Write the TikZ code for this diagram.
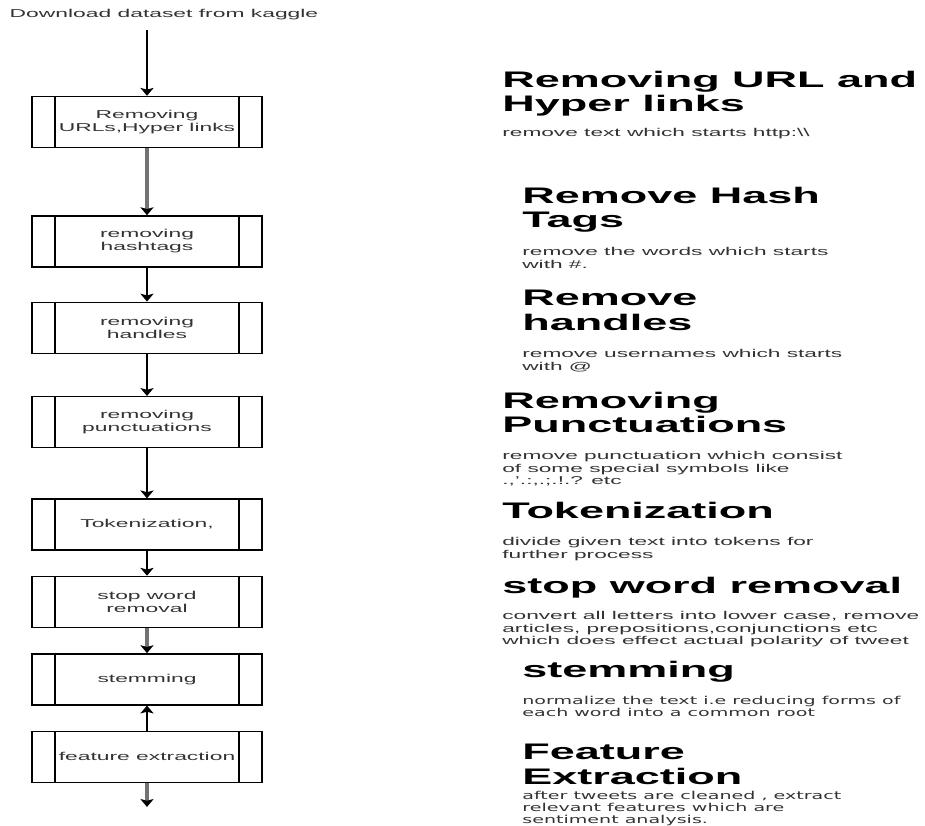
\documentclass[tikz,border=0pt]{standalone}
\usepackage{fontspec}
\setmainfont{Liberation Sans}[FakeStretch=2.0]
\newfontfamily\verdfont{DejaVu Sans}[FakeStretch=1.75]
\usepackage{tikz}
\usetikzlibrary{arrows.meta,positioning}
\definecolor{txtgray}{RGB}{51,51,51}
\definecolor{linegray}{RGB}{115,115,115}

\begin{document}
\begin{tikzpicture}[
        x=0.02cm, y=-0.02cm,
        stepbox/.style={draw=black, line width=0.8pt,
                    minimum width=4.6cm, minimum height=1.02cm,
                    inner sep=2pt, align=center, text=txtgray,
                    font=\fontsize{6.5}{7.3}\selectfont,
                    path picture={
                      \draw[line width=0.8pt]
                        ([xshift=0.46cm]path picture bounding box.north west) --
                        ([xshift=0.46cm]path picture bounding box.south west);
                      \draw[line width=0.8pt]
                        ([xshift=-0.46cm]path picture bounding box.north east) --
                        ([xshift=-0.46cm]path picture bounding box.south east);}},
        arr/.style={-{Stealth[length=4.5pt, width=7.5pt, inset=1pt, color=black]},
                    line width=0.8pt, black},
        grayarr/.style={arr, draw=linegray, line width=1.8pt},
        head/.style={anchor=north west, inner sep=0pt, align=left,
                    font=\bfseries\fontsize{12.8}{13.8}\selectfont},
        desc/.style={anchor=north west, inner sep=0pt, align=left,
                    text=txtgray, font=\fontsize{6.45}{7.1}\selectfont}
      ]
        \useasboundingbox (0,0) rectangle (925,825);

        % flow on the left
        \node[inner sep=0pt, font=\fontsize{6.5}{7.3}\selectfont, text=txtgray]
          (dl) at (164,15) {Download dataset from kaggle};
        \node[stepbox] (url) at (147,122) {Removing\\URLs,Hyper links};
        \node[stepbox, below=1.34cm of url] (hash) {removing\\hashtags};
        \node[stepbox, below=0.68cm of hash] (hand) {removing\\handles};
        \node[stepbox, below=0.84cm of hand] (punc) {removing\\punctuations};
        \node[stepbox, below=1.0cm of punc] (tok) {Tokenization,};
        \node[stepbox, below=0.5cm of tok] (stop) {stop word\\removal};
        \node[stepbox, below=0.5cm of stop] (stem) {stemming};
        \node[stepbox, below=0.5cm of stem] (feat) {feature extraction};
        \coordinate[below=0.48cm of feat] (out);

        \draw[arr] (url.north |- dl.south) ++(0,9) -- (url);
        \draw[grayarr] (url) -- (hash);
        \draw[arr] (hash) -- (hand);
        \draw[arr] (hand) -- (punc);
        \draw[arr] (punc) -- (tok);
        \draw[arr] (tok) -- (stop);
        \draw[grayarr] (stop) -- (stem);
        \draw[arr] (feat) -- (stem);
        \draw[grayarr] (feat) -- (out);

        % notes on the right
        \node[head] (h1) at (502,71) {Removing URL and\\Hyper links};
        \node[desc] (d1) at (502,128) {remove text which starts http:\textbackslash\textbackslash};
        \node[head] (h2) at (522,187) {Remove Hash\\Tags};
        \node[desc] (d2) at (522,247) {remove the words which starts\\with \#.};
        \node[head] (h3) at (522,290) {Remove\\handles};
        \node[desc] (d3) at (522,349) {remove usernames which starts\\with @};
        \node[head] (h4) at (502,392) {Removing\\Punctuations};
        \node[desc] (d4) at (502,451) {remove punctuation which consist\\of some special symbols like\\.,'.:,.;.!.? etc};
        \node[head] (h5) at (502,502) {Tokenization};
        \node[desc] (d5) at (502,537) {divide given text into tokens for\\further process};
        \node[head] (h6) at (502,577) {stop word removal};
        \node[desc] (d6) at (502,611) {convert all letters into lower case, remove\\articles, prepositions,conjunctions etc\\which does effect actual polarity of tweet};
        \node[head] (h7) at (522,661) {stemming};
        \node[desc, font=\verdfont\fontsize{6.2}{7.0}\selectfont] (d7) at (522,696)
          {normalize the text i.e reducing forms of\\each word into a common root};
        \node[head] (h8) at (522,744) {Feature\\Extraction};
        \node[desc, font=\verdfont\fontsize{6.2}{6.8}\selectfont] (d8) at (522,791)
          {after tweets are cleaned , extract\\relevant features which are\\sentiment analysis.};
      \end{tikzpicture}
\end{document}
